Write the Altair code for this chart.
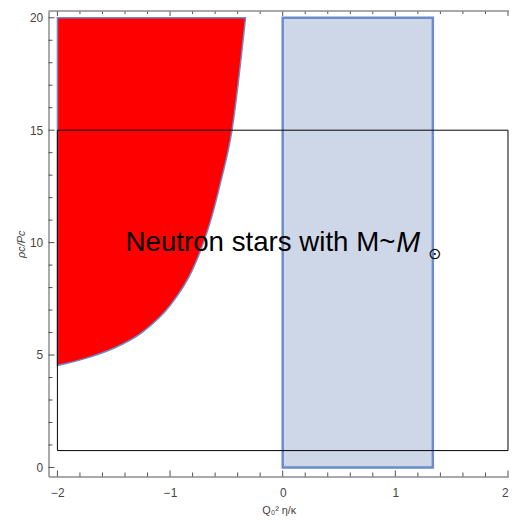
import altair as alt
import pandas as pd

# ---- data ----
curve_x = [-2.0, -1.75, -1.5, -1.25, -1.0, -0.8, -0.65, -0.55, -0.45, -0.33]
curve_y = [4.53, 4.85, 5.3, 6.0, 7.2, 8.8, 10.8, 12.7, 15.0, 20.0]
region_top = 20.0

band_x = [0.0, 1.333]
band_y = [0.0, 20.0]

box_x = [-2.0, 2.0]
box_y = [0.75, 15.0]

label_text = ["Neutron stars with M~", "M", "⊙"]
label_pos = (1.0, 10.0)

x_major = [-2, -1, 0, 1, 2]
x_minor = [round(-2 + 0.2 * i, 1) for i in range(21) if i % 5 != 0]
y_major = [0, 5, 10, 15, 20]
y_minor = [i for i in range(1, 20) if i % 5 != 0]

X_DOMAIN = [-2.079, 2.009]
Y_DOMAIN = [-0.4, 20.3]
W, H = 466, 471

FONT = "Liberation Sans"
TICK = "#4d4d4d"
FRAME = "#8c8c8c"

red_df = pd.DataFrame({"x": curve_x, "y": curve_y, "top": [region_top] * len(curve_x)})
band_df = pd.DataFrame({"x": [band_x[0]], "x2": [band_x[1]], "y": [band_y[0]], "y2": [band_y[1]]})
box_df = pd.DataFrame({"x": [box_x[0]], "x2": [box_x[1]], "y": [box_y[0]], "y2": [box_y[1]]})
lab_df = pd.DataFrame({"x": [label_pos[0]], "y": [label_pos[1]]})

xs = alt.Scale(domain=X_DOMAIN, nice=False, zero=False)
ys = alt.Scale(domain=Y_DOMAIN, nice=False, zero=False)

# red region + main axes
red = alt.Chart(red_df).mark_area(
    color="#ff0000", fill="#ff0000", stroke="#6a8cc8", strokeWidth=1.5,
    interpolate="monotone", clip=True
).encode(
    x=alt.X("x:Q", scale=xs, axis=alt.Axis(
        orient="bottom", values=x_major, format="d", ticks=False, grid=False,
        domainColor=FRAME, domainWidth=1.5,
        labelFont=FONT, labelFontSize=12, labelColor="#444444", labelPadding=11,
        labelAlign={"condition": {"test": "datum.value >= 2", "value": "right"}, "value": "center"},
        title="Q₀² η/κ", titleFont=FONT, titleFontSize=11, titleFontWeight="normal",
        titleColor="#444444", titlePadding=7)),
    y=alt.Y("y:Q", scale=ys, axis=alt.Axis(
        orient="left", values=y_major, format="d", ticks=False, grid=False,
        domainColor=FRAME, domainWidth=1.5,
        labelFont=FONT, labelFontSize=12, labelColor="#444444", labelPadding=6,
        title="ρc/Pc", titleFont=FONT, titleFontSize=11, titleFontWeight="normal",
        titleFontStyle="italic", titleColor="#444444", titleX=-27, titleBaseline="middle")),
    y2="top:Q",
)

band = alt.Chart(band_df).mark_rect(
    fill="#cdd7e7", stroke="#6a8cc8", strokeWidth=2.5, clip=True
).encode(
    x=alt.X("x:Q", scale=xs), x2="x2:Q",
    y=alt.Y("y:Q", scale=ys), y2="y2:Q",
)

box = alt.Chart(box_df).mark_rect(
    filled=False, stroke="#000000", strokeWidth=1, clip=True
).encode(
    x=alt.X("x:Q", scale=xs), x2="x2:Q",
    y=alt.Y("y:Q", scale=ys), y2="y2:Q",
)


# frame ticks (inward, Mathematica style) as short rules
def xticks(values, size, at_top):
    edge = Y_DOMAIN[1] if at_top else Y_DOMAIN[0]
    df = pd.DataFrame({"v": values, "e": [edge] * len(values)})
    return alt.Chart(df).mark_rule(
        color=TICK, strokeWidth=1, y2Offset=(size if at_top else -size)
    ).encode(
        x=alt.X("v:Q", scale=xs),
        y=alt.Y("e:Q", scale=ys),
        y2="e:Q",
    )


def yticks(values, size):
    df = pd.DataFrame({"v": values, "e": [X_DOMAIN[0]] * len(values)})
    return alt.Chart(df).mark_rule(
        color=TICK, strokeWidth=1, x2Offset=size
    ).encode(
        y=alt.Y("v:Q", scale=ys),
        x=alt.X("e:Q", scale=xs),
        x2="e:Q",
    )


top_frame = alt.Chart(pd.DataFrame({"a": [X_DOMAIN[0]], "b": [X_DOMAIN[1]], "y": [Y_DOMAIN[1]]})).mark_rule(
    color=FRAME, strokeWidth=1.5
).encode(
    x=alt.X("a:Q", scale=xs), x2="b:Q",
    y=alt.Y("y:Q", scale=ys),
)

txt_main = alt.Chart(lab_df).mark_text(
    text=label_text[0], align="right", baseline="middle", font=FONT, fontSize=28,
    color="#000000"
).encode(
    x=alt.X("x:Q", scale=xs),
    y=alt.Y("y:Q", scale=ys),
)

txt_m = alt.Chart(lab_df).mark_text(
    text=label_text[1], align="left", baseline="middle", font=FONT, fontSize=29,
    fontStyle="italic", color="#000000", dx=1
).encode(
    x=alt.X("x:Q", scale=xs),
    y=alt.Y("y:Q", scale=ys),
)

txt_sun = alt.Chart(lab_df).mark_text(
    text=label_text[2], align="left", baseline="middle", font="DejaVu Sans", fontSize=16,
    color="#000000", dx=33, dy=12
).encode(
    x=alt.X("x:Q", scale=xs),
    y=alt.Y("y:Q", scale=ys),
)

chart = alt.layer(
    red, band, box,
    xticks(x_major, 6, False), xticks(x_minor, 4, False),
    xticks(x_major, 5, True), xticks(x_minor, 3, True),
    yticks(y_major, 6), yticks(y_minor, 4),
    top_frame,
    txt_main, txt_m, txt_sun,
).properties(
    width=W, height=H,
    autosize=alt.AutoSizeParams(type="none"),
    padding={"left": 41, "top": 0, "right": 0, "bottom": 40},
    background="#ffffff",
).configure_view(stroke=None)

chart.save("out.html", embed_options={"renderer": "svg", "actions": False})
